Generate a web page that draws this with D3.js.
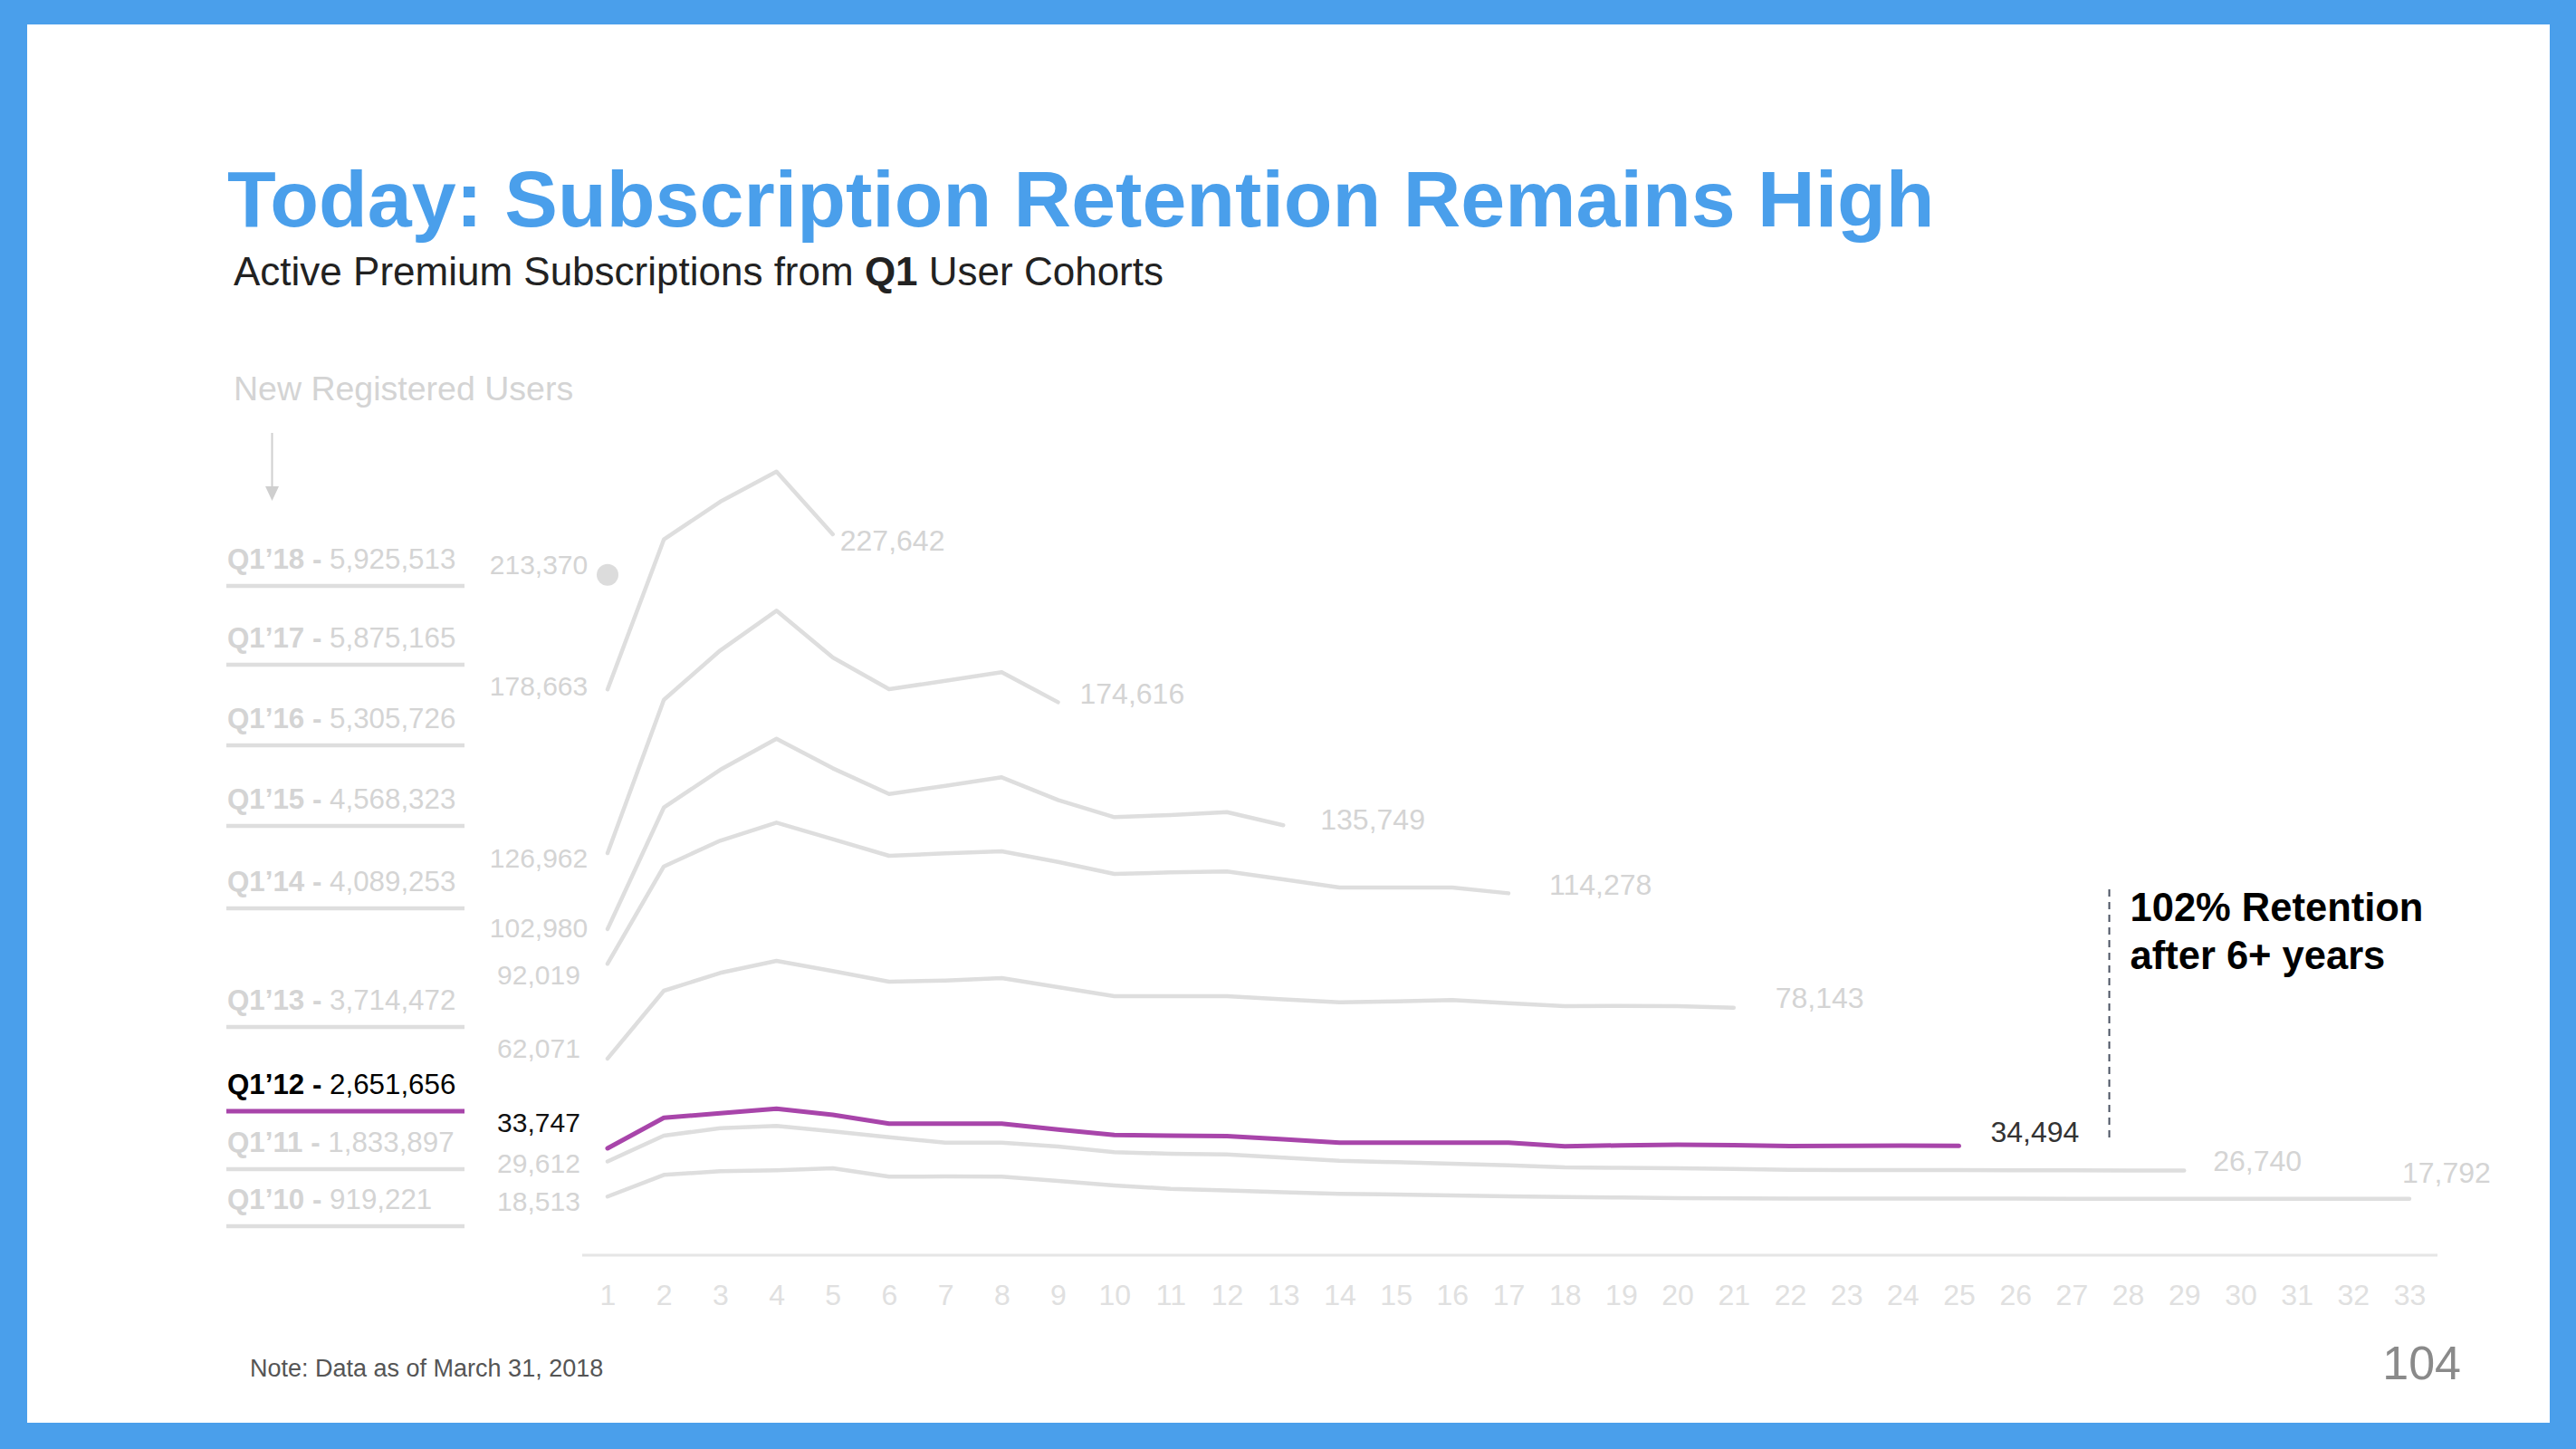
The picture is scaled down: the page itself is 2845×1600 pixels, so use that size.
<!DOCTYPE html>
<html>
<head>
<meta charset="utf-8">
<script src="https://cdn.jsdelivr.net/npm/d3@7"></script>
<style>
  html, body { margin: 0; padding: 0; background: #fff; }
  svg { display: block; }
  text { font-family: "Helvetica Neue", "Liberation Sans", Arial, sans-serif; }
</style>
</head>
<body>
<svg id="chart" width="2845" height="1600"></svg>
<script>
// ---------------- DATA ----------------
const cohorts = ["Q1’18", "Q1’17", "Q1’16", "Q1’15", "Q1’14", "Q1’13", "Q1’12", "Q1’11", "Q1’10"];
const registeredUsers = [5925513, 5875165, 5305726, 4568323, 4089253, 3714472, 2651656, 1833897, 919221];
const quarters = [1,2,3,4,5,6,7,8,9,10,11,12,13,14,15,16,17,18,19,20,21,22,23,24,25,26,27,28,29,30,31,32,33];

const subsQ1_18 = [213370];
const subsQ1_17 = [178663, 226000, 237900, 247440, 227642];
const subsQ1_16 = [126962, 175380, 190930, 203520, 188730, 178720, 181390, 184070, 174616];
const subsQ1_15 = [102980, 141350, 153270, 163090, 153750, 145640, 148220, 150890, 143740, 138310, 139000, 139920, 135749];
const subsQ1_14 = [92019, 122760, 130880, 136600, 131340, 126110, 126880, 127540, 124190, 120390, 120870, 121160, 118670, 116100, 116100, 116100, 114278];
const subsQ1_13 = [62071, 83500, 89130, 92940, 89700, 86360, 86740, 87500, 84640, 81780, 81780, 81780, 80800, 79870, 80150, 80550, 79580, 78640, 78740, 78640, 78143];
const subsQ1_12 = [33747, 43380, 44810, 46240, 44320, 41550, 41550, 41550, 39660, 37950, 37750, 37600, 36600, 35540, 35540, 35540, 35540, 34400, 34690, 34890, 34750, 34460, 34550, 34600, 34494];
const subsQ1_11 = [29612, 37750, 40120, 40800, 39090, 37260, 35540, 35540, 34320, 32510, 32030, 31800, 30800, 29830, 29350, 28880, 28400, 27740, 27600, 27450, 27250, 26970, 26900, 26880, 26850, 26820, 26800, 26770, 26740];
const subsQ1_10 = [18513, 25360, 26510, 26790, 27450, 24790, 24880, 24790, 23450, 22020, 20960, 20450, 19870, 19360, 19160, 18870, 18590, 18390, 18200, 18050, 17950, 17900, 17880, 17860, 17850, 17840, 17830, 17820, 17810, 17800, 17800, 17795, 17792];

const highlightCohort = "Q1’12";
const retentionNote = ["102% Retention", "after 6+ years"];
const annotationQuarter = 27.67;

// ---------------- LAYOUT (not data) ----------------
const W = 2845, H = 1600;
const legendBaselines = [628, 715, 804, 893, 984, 1115, 1208, 1272, 1335];
const startLabelDy = [-16, -4, 5, -1, 12, -11, -28, 2, 5];         // label centre offset from first point
const endLabelOffset = [null, [8, 7], [24, -9], [41, -6], [45, -9], [46, -11], [35, -15], [32, -10], [-8, -29]];

const series = [subsQ1_18, subsQ1_17, subsQ1_16, subsQ1_15, subsQ1_14, subsQ1_13, subsQ1_12, subsQ1_11, subsQ1_10];

const GRAY_LINE = "#dedede";
const GRAY_TEXT = "#d4d4d4";
const PURPLE = "#a845aa";
const BLUE = "#4a9feb";

const svg = d3.select("#chart");

// frame
svg.append("rect").attr("x", 0).attr("y", 0).attr("width", W).attr("height", H).attr("fill", BLUE);
svg.append("rect").attr("x", 30).attr("y", 27).attr("width", 2786).attr("height", 1544).attr("fill", "#fff");

// titles
svg.append("text").attr("x", 251).attr("y", 250)
  .attr("font-size", 88).attr("font-weight", "bold").attr("fill", BLUE)
  .text("Today: Subscription Retention Remains High");

const sub = svg.append("text").attr("x", 258).attr("y", 315)
  .attr("font-size", 44).attr("fill", "#222");
sub.append("tspan").text("Active Premium Subscriptions from ");
sub.append("tspan").attr("font-weight", "bold").text("Q1");
sub.append("tspan").text(" User Cohorts");

// "New Registered Users" + arrow
svg.append("text").attr("x", 258).attr("y", 442)
  .attr("font-size", 37.5).attr("font-weight", 300).attr("fill", GRAY_TEXT)
  .text("New Registered Users");
svg.append("line").attr("x1", 300.5).attr("x2", 300.5).attr("y1", 478).attr("y2", 540)
  .attr("stroke", "#cfcfcf").attr("stroke-width", 2);
svg.append("path").attr("d", "M293,537 L308,537 L300.5,553 Z").attr("fill", "#cfcfcf");

// scales
const x = d3.scaleLinear().domain([1, 33]).range([671, 2661]);
const y = d3.scaleLinear().domain([0, 250000]).range([1386, 1386 - 250000 * 0.003497]);

// axis
const axisG = svg.append("g").attr("transform", `translate(0,${y(0)})`)
  .call(d3.axisBottom(x).tickValues(quarters).tickSize(0).tickPadding(32).tickFormat(d3.format("d")));
axisG.select(".domain").remove();
axisG.selectAll("text")
  .attr("font-size", 32).attr("font-weight", 300).attr("fill", "#e0e0e0")
  .attr("font-family", "\"Helvetica Neue\", \"Liberation Sans\", Arial, sans-serif");
svg.append("line").attr("x1", x(1) - 28).attr("x2", x(33) + 31).attr("y1", y(0)).attr("y2", y(0))
  .attr("stroke", "#e6e6e6").attr("stroke-width", 3);

const fmt = d3.format(",");
const line = d3.line().x((d, i) => x(quarters[i])).y(d => y(d));

// draw gray series first, highlighted last
const order = d3.range(series.length).sort((a, b) =>
  (cohorts[a] === highlightCohort) - (cohorts[b] === highlightCohort));

order.forEach(k => {
  const vals = series[k];
  const hi = cohorts[k] === highlightCohort;
  if (vals.length > 1) {
    svg.append("path").datum(vals).attr("d", line)
      .attr("fill", "none").attr("stroke", hi ? PURPLE : GRAY_LINE)
      .attr("stroke-width", hi ? 5 : 4.5).attr("stroke-linejoin", "round").attr("stroke-linecap", "round");
  } else {
    svg.append("circle").attr("cx", x(quarters[0])).attr("cy", y(vals[0]) - 5).attr("r", 12)
      .attr("fill", "#dcdcdc");
  }
  // start label
  svg.append("text").attr("x", 595).attr("y", y(vals[0]) + startLabelDy[k])
    .attr("text-anchor", "middle").attr("dominant-baseline", "central")
    .attr("font-size", 30).attr("font-weight", 300)
    .attr("fill", hi ? "#111" : GRAY_TEXT).text(fmt(vals[0]));
  // end label
  if (vals.length > 1) {
    const n = vals.length;
    const off = endLabelOffset[k];
    svg.append("text").attr("x", x(quarters[n - 1]) + off[0]).attr("y", y(vals[n - 1]) + off[1])
      .attr("dominant-baseline", "central")
      .attr("font-size", 32).attr("font-weight", 300)
      .attr("fill", hi ? "#333" : GRAY_TEXT).text(fmt(vals[n - 1]));
  }
});

// legend
cohorts.forEach((c, k) => {
  const hi = c === highlightCohort;
  const t = svg.append("text").attr("x", 251).attr("y", legendBaselines[k])
    .attr("font-size", 31.3).attr("fill", hi ? "#000" : GRAY_TEXT);
  t.append("tspan").attr("font-weight", "bold").text(c + " - ");
  t.append("tspan").attr("font-weight", 300).text(fmt(registeredUsers[k]));
  svg.append("line").attr("x1", 250).attr("x2", 513)
    .attr("y1", legendBaselines[k] + 19).attr("y2", legendBaselines[k] + 19)
    .attr("stroke", hi ? PURPLE : GRAY_LINE).attr("stroke-width", hi ? 5 : 4.5);
});

// annotation
svg.append("line").attr("x1", x(annotationQuarter)).attr("x2", x(annotationQuarter))
  .attr("y1", 982).attr("y2", 1257)
  .attr("stroke", "#4a5262").attr("stroke-width", 2).attr("stroke-dasharray", "8,6");
retentionNote.forEach((s, i) => {
  svg.append("text").attr("x", x(annotationQuarter) + 23).attr("y", 1017 + i * 53)
    .attr("font-size", 43.5).attr("font-weight", "bold").attr("fill", "#000").text(s);
});

// footer
svg.append("text").attr("x", 276).attr("y", 1520).attr("font-size", 27).attr("fill", "#555")
  .text("Note: Data as of March 31, 2018");
svg.append("text").attr("x", 2718).attr("y", 1523).attr("text-anchor", "end")
  .attr("font-size", 52).attr("font-weight", 300).attr("fill", "#8a8a8a").text("104");
</script>
</body>
</html>
